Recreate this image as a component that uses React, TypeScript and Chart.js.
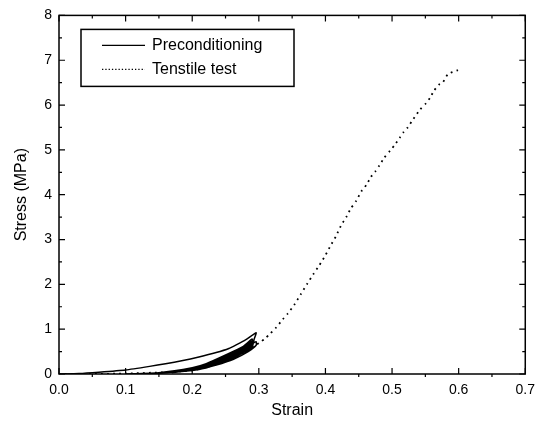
import React, { useEffect, useRef } from "react";
import { Chart, registerables } from "chart.js";

Chart.register(...registerables);

// Preconditioning: several loading/unloading cycles (strain, stress MPa)
const preStrain = [
  0, 0.03, 0.06, 0.1, 0.136, 0.16, 0.186, 0.21, 0.236, 0.255, 0.266, 0.28, 0.296,
  0.293, 0.29, 0.276, 0.251, 0.221, 0.2, 0.15, 0.1,
  0.15, 0.2, 0.221, 0.251, 0.276, 0.29,
  0.29, 0.276, 0.251, 0.221, 0.2, 0.15,
  0.2, 0.221, 0.251, 0.276, 0.29,
  0.29, 0.276, 0.251, 0.221, 0.2, 0.15,
  0.2, 0.221, 0.251, 0.276, 0.29,
  0.29, 0.276, 0.251, 0.221, 0.2, 0.15,
  0.2, 0.221, 0.251, 0.276, 0.29, 0.296,
  0.296, 0.284, 0.262, 0.236, 0.21, 0.17,
  0.2, 0.23, 0.258, 0.28, 0.293,
];
const preStress = [
  0, 0.01, 0.04, 0.09, 0.17, 0.23, 0.3, 0.38, 0.48, 0.57, 0.65, 0.76, 0.92,
  0.78, 0.6, 0.47, 0.28, 0.17, 0.1, 0.015, 0.0,
  0.03, 0.14, 0.23, 0.43, 0.61, 0.78,
  0.63, 0.5, 0.31, 0.18, 0.105, 0.02,
  0.13, 0.21, 0.4, 0.58, 0.74,
  0.66, 0.52, 0.34, 0.19, 0.11, 0.02,
  0.12, 0.2, 0.37, 0.55, 0.7,
  0.6, 0.47, 0.28, 0.17, 0.1, 0.015,
  0.11, 0.195, 0.35, 0.53, 0.68, 0.72,
  0.64, 0.5, 0.33, 0.2, 0.1, 0.03,
  0.11, 0.24, 0.4, 0.57, 0.7,
];

// Tensile test (strain, stress MPa)
const tenStrain = [
  0, 0.1, 0.2, 0.25, 0.28, 0.296, 0.303, 0.31, 0.317, 0.325, 0.336, 0.343, 0.353,
  0.363, 0.373, 0.382, 0.391, 0.4, 0.408, 0.416, 0.423, 0.432, 0.438, 0.446,
  0.455, 0.462, 0.468, 0.475, 0.481, 0.488, 0.497, 0.504, 0.512, 0.517, 0.523,
  0.532, 0.542, 0.551, 0.557, 0.563, 0.57, 0.576, 0.584, 0.599,
];
const tenStress = [
  0, 0.01, 0.08, 0.28, 0.5, 0.65, 0.72, 0.8, 0.9, 1.02, 1.22, 1.34, 1.54,
  1.78, 2.02, 2.23, 2.43, 2.65, 2.87, 3.08, 3.3, 3.52, 3.69, 3.86,
  4.1, 4.23, 4.39, 4.52, 4.65, 4.82, 4.98, 5.11, 5.28, 5.39, 5.49,
  5.69, 5.9, 6.04, 6.16, 6.32, 6.45, 6.5, 6.69, 6.78,
];

const seriesNames = ["Preconditioning", "Tenstile test"];
const xTitle = "Strain";
const yTitle = "Stress (MPa)";

const FONT = "'Liberation Sans', Arial, Helvetica, sans-serif";

const framePlugin = {
  id: "frameTicksLegend",
  afterDatasetsDraw(chart: any) {
    const { ctx, chartArea: a, scales } = chart;
    const xs = scales.x;
    const ys = scales.y;
    ctx.save();
    ctx.strokeStyle = "#000";
    ctx.lineWidth = 1.5;
    ctx.strokeRect(a.left, a.top, a.right - a.left, a.bottom - a.top);
    ctx.lineWidth = 1.2;
    const xt = xs.ticks.map((t: any) => t.value);
    ctx.beginPath();
    xt.forEach((v: number, i: number) => {
      const px = xs.getPixelForValue(v);
      ctx.moveTo(px, a.bottom);
      ctx.lineTo(px, a.bottom - 6);
      ctx.moveTo(px, a.top);
      ctx.lineTo(px, a.top + 6);
      if (i < xt.length - 1) {
        const m = xs.getPixelForValue((v + xt[i + 1]) / 2);
        ctx.moveTo(m, a.bottom);
        ctx.lineTo(m, a.bottom + 3);
        ctx.moveTo(m, a.top);
        ctx.lineTo(m, a.top + 3);
      }
    });
    const yt = ys.ticks.map((t: any) => t.value);
    yt.forEach((v: number, i: number) => {
      const py = ys.getPixelForValue(v);
      ctx.moveTo(a.left, py);
      ctx.lineTo(a.left + 6, py);
      ctx.moveTo(a.right, py);
      ctx.lineTo(a.right - 6, py);
      if (i < yt.length - 1) {
        const m = ys.getPixelForValue((v + yt[i + 1]) / 2);
        ctx.moveTo(a.left, m);
        ctx.lineTo(a.left + 3, m);
        ctx.moveTo(a.right, m);
        ctx.lineTo(a.right - 3, m);
      }
    });
    ctx.stroke();

    // legend box
    const bx = a.left + 22;
    const by = a.top + 14;
    const bw = 213;
    const bh = 57;
    ctx.fillStyle = "#fff";
    ctx.fillRect(bx, by, bw, bh);
    ctx.lineWidth = 1.5;
    ctx.strokeRect(bx, by, bw, bh);
    ctx.font = `16px ${FONT}`;
    ctx.textBaseline = "middle";
    ctx.fillStyle = "#000";
    chart.data.datasets.forEach((ds: any, i: number) => {
      const ly = by + 16 + i * 24;
      ctx.beginPath();
      ctx.lineWidth = Math.min(ds.borderWidth, 1.3);
      ctx.setLineDash(i === 1 ? [1.3, 2] : []);
      ctx.moveTo(bx + 21, ly);
      ctx.lineTo(bx + 64, ly);
      ctx.stroke();
      ctx.setLineDash([]);
      ctx.fillText(seriesNames[i], bx + 71, ly);
    });
    ctx.restore();
  },
};

export default function App() {
  const ref = useRef<HTMLCanvasElement | null>(null);
  useEffect(() => {
    if (!ref.current) return;
    const chart = new Chart(ref.current, {
      type: "line",
      data: {
        datasets: [
          {
            label: seriesNames[0],
            data: preStrain.map((x, i) => ({ x, y: preStress[i] })),
            borderColor: "#000",
            borderWidth: 1.5,
            pointRadius: 0,
            tension: 0.15,
            fill: false,
          },
          {
            label: seriesNames[1],
            data: tenStrain.map((x, i) => ({ x, y: tenStress[i] })),
            borderColor: "#000",
            borderWidth: 1.8,
            borderDash: [1.8, 4.2],
            pointRadius: 0,
            tension: 0.2,
            fill: false,
          },
        ],
      },
      options: {
        animation: false,
        responsive: false,
        layout: { padding: { left: 8, right: 17, top: 14, bottom: 0 } },
        plugins: { legend: { display: false }, tooltip: { enabled: false } },
        scales: {
          x: {
            type: "linear",
            min: 0,
            max: 0.7,
            grid: { display: false, drawTicks: false },
            border: { display: false },
            ticks: {
              stepSize: 0.1,
              padding: 8,
              color: "#000",
              font: { family: FONT, size: 14 },
              callback: (v: any) => Number(v).toFixed(1),
            },
            title: {
              display: true,
              text: xTitle,
              color: "#000",
              font: { family: FONT, size: 16 },
              padding: { top: 0, bottom: 4 },
            },
            afterFit: (s: any) => {
              s.height = 50;
            },
          },
          y: {
            type: "linear",
            min: 0,
            max: 8,
            grid: { display: false, drawTicks: false },
            border: { display: false },
            ticks: {
              stepSize: 1,
              padding: 7,
              color: "#000",
              font: { family: FONT, size: 14 },
            },
            title: {
              display: true,
              text: yTitle,
              color: "#000",
              font: { family: FONT, size: 16 },
              padding: { top: 4, bottom: 0 },
            },
            afterFit: (s: any) => {
              s.width = 51;
            },
          },
        },
      },
      plugins: [framePlugin],
    });
    return () => chart.destroy();
  }, []);
  return (
    <div style={{ position: "absolute", left: 0, top: 0, width: 543, height: 424, background: "#fff" }}>
      <canvas ref={ref} width={543} height={424} />
    </div>
  );
}
